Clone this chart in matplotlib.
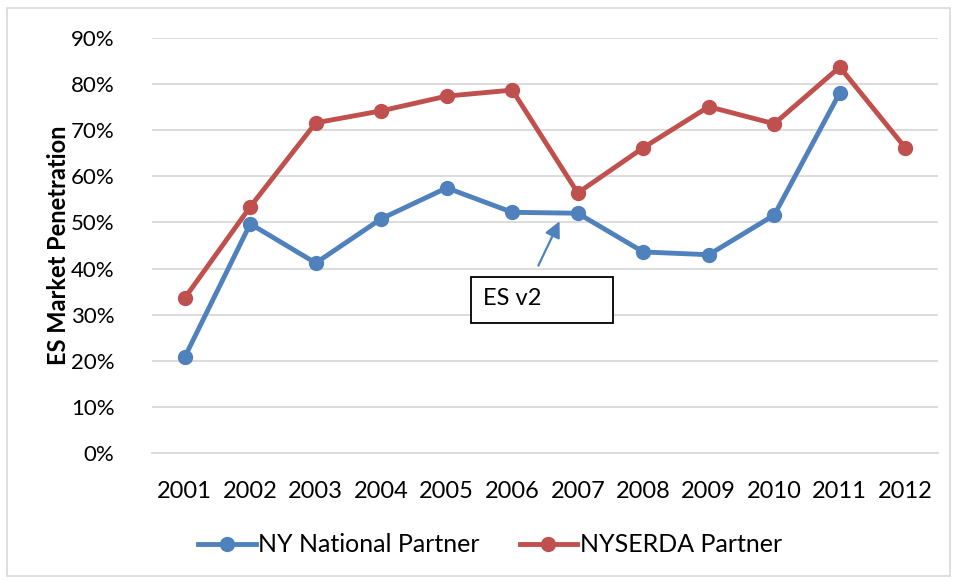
import matplotlib
matplotlib.use("Agg")
import matplotlib.pyplot as plt
from matplotlib.patches import Rectangle
from matplotlib.ticker import FuncFormatter

plt.rcParams['font.family'] = ['Lato', 'DejaVu Sans']

years = ['2001', '2002', '2003', '2004', '2005', '2006', '2007', '2008', '2009', '2010', '2011', '2012']
ny_national = [20.8, 49.7, 41.2, 50.8, 57.5, 52.2, 52.0, 43.6, 43.0, 51.6, 78.1, None]
nyserda = [33.6, 53.4, 71.6, 74.2, 77.4, 78.7, 56.4, 66.2, 75.1, 71.4, 83.7, 66.2]
yticks = [0, 10, 20, 30, 40, 50, 60, 70, 80, 90]

blue = '#4F81BD'
red = '#C0504D'

fig = plt.figure(figsize=(9.56, 5.81), dpi=100)
fig.patches.append(Rectangle((7/956, 1-576/581), 943/956, 568/581, transform=fig.transFigure,
                             fill=False, edgecolor='#D9D9D9', linewidth=1.2))
ax = fig.add_axes([152/956, 1-453/581, (938-152)/956, (453-38)/581])

x = list(range(len(years)))
nx = [i for i, v in zip(x, ny_national) if v is not None]
nv = [v for v in ny_national if v is not None]
ax.plot(nx, nv, color=blue, lw=3.5, marker='o', ms=10, label='NY National Partner', zorder=3)
ax.plot(x, nyserda, color=red, lw=3.5, marker='o', ms=10, label='NYSERDA Partner', zorder=3)

ax.set_xlim(-0.5, len(years) - 0.5)
ax.set_ylim(0, 90)
ax.set_yticks(yticks)
ax.yaxis.set_major_formatter(FuncFormatter(lambda v, p: f'{int(v)}%'))
ax.set_xticks(x)
ax.set_xticklabels(years)
ax.grid(axis='y', color='#D9D9D9', lw=1.3)
ax.set_axisbelow(True)
for s in ['top', 'right', 'left']:
    ax.spines[s].set_visible(False)
ax.spines['bottom'].set_color('#D9D9D9')
ax.spines['bottom'].set_linewidth(1.3)
ax.tick_params(axis='both', length=0, colors='black')
ax.tick_params(axis='x', labelsize=17, pad=20)
ax.tick_params(axis='y', labelsize=16, pad=27)
ax.set_ylabel('ES Market Penetration', fontsize=17, fontweight='bold', va='center')
ax.yaxis.set_label_coords((58 - 152) / 786, (453 - 245) / 415)

# annotation
ax.annotate('', xy=(5.74, 50.8), xytext=(5.38, 40.1),
            arrowprops=dict(arrowstyle='-|>', color=blue, lw=1.6, mutation_scale=24), zorder=4)
ax.add_patch(Rectangle((4.37, 28.2), 2.17, 10.0, fc='white', ec='black', lw=1.3, zorder=4))
ax.text(5.0, 33.4, 'ES v2', fontsize=17, ha='center', va='center', zorder=5)

leg = fig.legend(loc='center', bbox_to_anchor=(490/956, 1-545/581), ncol=2, frameon=False,
                 fontsize=18, handlelength=2.3, columnspacing=1.6, handletextpad=0.1)

fig.savefig('out.png', dpi=100)
